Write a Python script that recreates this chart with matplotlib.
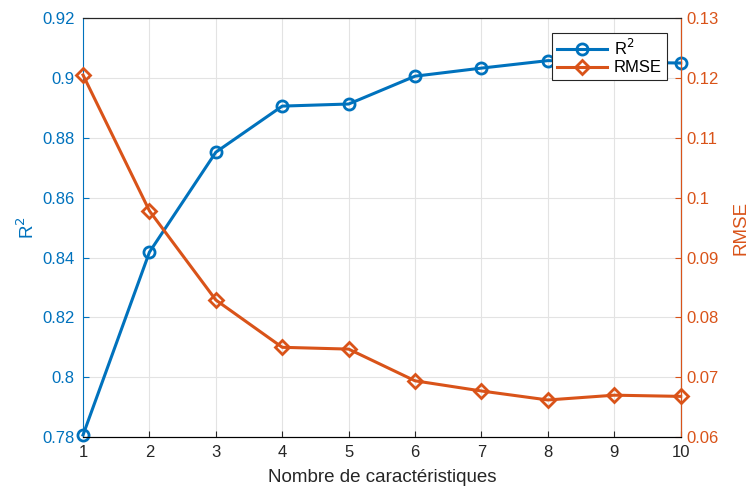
import matplotlib.pyplot as plt

plt.rcParams['font.family'] = ['Liberation Sans', 'DejaVu Sans']

n_features = [1, 2, 3, 4, 5, 6, 7, 8, 9, 10]
r2 = [0.7807, 0.8418, 0.8752, 0.8906, 0.8913, 0.9006, 0.9033, 0.9058, 0.9053, 0.9050]
rmse = [0.1205, 0.0978, 0.0829, 0.0750, 0.0747, 0.0694, 0.0677, 0.0662, 0.0670, 0.0668]

blue = '#0072BD'
orange = '#D95319'


def plot_graph():
	fig = plt.figure(figsize=(7.48, 4.9), dpi=100)
	ax1 = fig.add_axes([0.111, 0.108, 0.799, 0.855])

	ax1.set_xlim(1, 10)
	ax1.set_ylim(0.78, 0.92)
	ax1.set_xticks(n_features)
	ax1.set_yticks([0.78, 0.8, 0.82, 0.84, 0.86, 0.88, 0.9, 0.92])
	ax1.set_yticklabels(['0.78', '0.8', '0.82', '0.84', '0.86', '0.88', '0.9', '0.92'])
	ax1.grid(True, color='#e3e3e3', linewidth=0.8)
	ax1.set_axisbelow(True)

	# R2 curve on the left axis
	l1, = ax1.plot(n_features, r2, color=blue, linewidth=2.2, marker='o',
		markersize=8, markerfacecolor='none', markeredgewidth=2, label='R$^2$', clip_on=False, zorder=3)
	ax1.set_xlabel('Nombre de caractéristiques', fontsize=13.5, color='#262626', labelpad=6)
	ax1.set_ylabel('R$^2$', fontsize=13.5, color=blue, labelpad=3)
	ax1.tick_params(axis='y', colors=blue, labelsize=12, direction='in', length=4, pad=6)
	ax1.tick_params(axis='x', colors='#262626', labelsize=12, direction='in', length=4, pad=6)
	ax1.spines['left'].set_color(blue)
	ax1.spines['bottom'].set_color('#262626')
	ax1.spines['top'].set_color('#262626')

	ax2 = ax1.twinx()
	ax2.set_ylim(0.06, 0.13)
	ax2.set_yticks([0.06, 0.07, 0.08, 0.09, 0.1, 0.11, 0.12, 0.13])
	ax2.set_yticklabels(['0.06', '0.07', '0.08', '0.09', '0.1', '0.11', '0.12', '0.13'])
	# RMSE curve on the right axis
	l2, = ax2.plot(n_features, rmse, color=orange, linewidth=2.2, marker='D',
		markersize=7, markerfacecolor='none', markeredgewidth=2, label='RMSE', clip_on=False, zorder=3)
	ax2.set_ylabel('RMSE', fontsize=13.5, color=orange, labelpad=10)
	ax2.tick_params(axis='y', colors=orange, labelsize=12, direction='in', length=4, pad=4)
	ax2.spines['right'].set_color(orange)
	ax2.spines['left'].set_visible(False)
	ax2.spines['top'].set_color('#262626')

	leg = ax2.legend(handles=[l1, l2], loc='upper right', bbox_to_anchor=(0.977, 0.965),
		fontsize=12, fancybox=False, framealpha=1, edgecolor='#262626', handlelength=3,
		borderpad=0.3, labelspacing=0.15, handletextpad=0.4, borderaxespad=0)
	leg.get_frame().set_linewidth(0.8)

	fig.savefig('out.png', dpi=100)


if __name__ == "__main__":
	plot_graph()
